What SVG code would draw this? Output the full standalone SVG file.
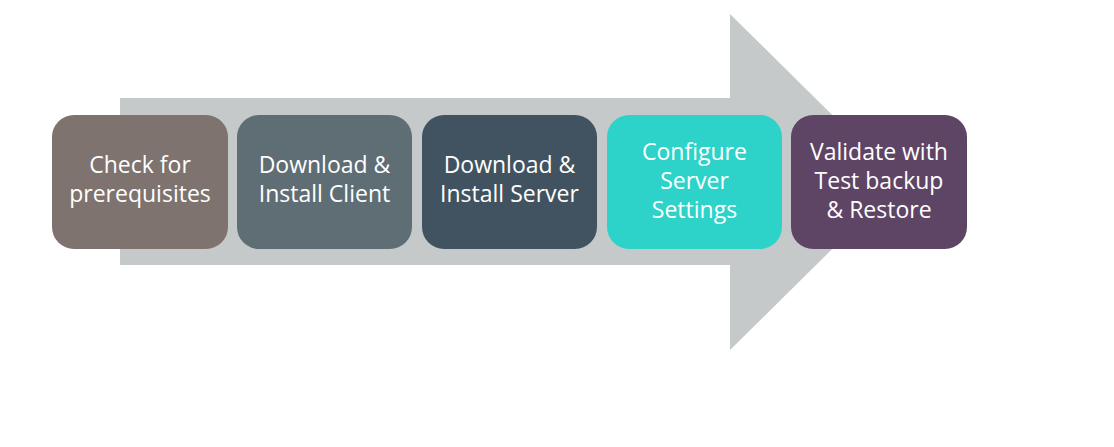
<svg xmlns="http://www.w3.org/2000/svg" width="1114" height="447" viewBox="0 0 1114 447">
<style>
.box{stroke:none}
.t{font-family:"Open Sans","Noto Sans",sans-serif;font-size:23px;fill:#ffffff;text-anchor:middle}
</style>
<rect width="1114" height="447" fill="#ffffff"/>
<g id="arrow">
<polygon points="120,98 730,98 730,14 900,182 730,350 730,265 120,265" fill="#c6c9ca"/>
</g>
<g id="step1">
<rect class="box" x="52" y="115" width="176" height="134" rx="22" fill="#7e736e"/>
<text class="t" x="140" y="173">Check for</text>
<text class="t" x="140" y="202">prerequisites</text>
</g>
<g id="step2">
<rect class="box" x="237" y="115" width="175" height="134" rx="22" fill="#5e6e74"/>
<text class="t" x="324.5" y="173">Download &amp;</text>
<text class="t" x="324.5" y="202">Install Client</text>
</g>
<g id="step3">
<rect class="box" x="422" y="115" width="175" height="134" rx="22" fill="#415360"/>
<text class="t" x="509.5" y="173">Download &amp;</text>
<text class="t" x="509.5" y="202">Install Server</text>
</g>
<g id="step4">
<rect class="box" x="607" y="115" width="175" height="134" rx="22" fill="#2dd3c9"/>
<text class="t" x="694.5" y="160">Configure</text>
<text class="t" x="694.5" y="189">Server</text>
<text class="t" x="694.5" y="218">Settings</text>
</g>
<g id="step5">
<rect class="box" x="791" y="115" width="176" height="134" rx="22" fill="#5f4565"/>
<text class="t" x="879" y="160">Validate with</text>
<text class="t" x="879" y="189">Test backup</text>
<text class="t" x="879" y="218">&amp; Restore</text>
</g>
</svg>
